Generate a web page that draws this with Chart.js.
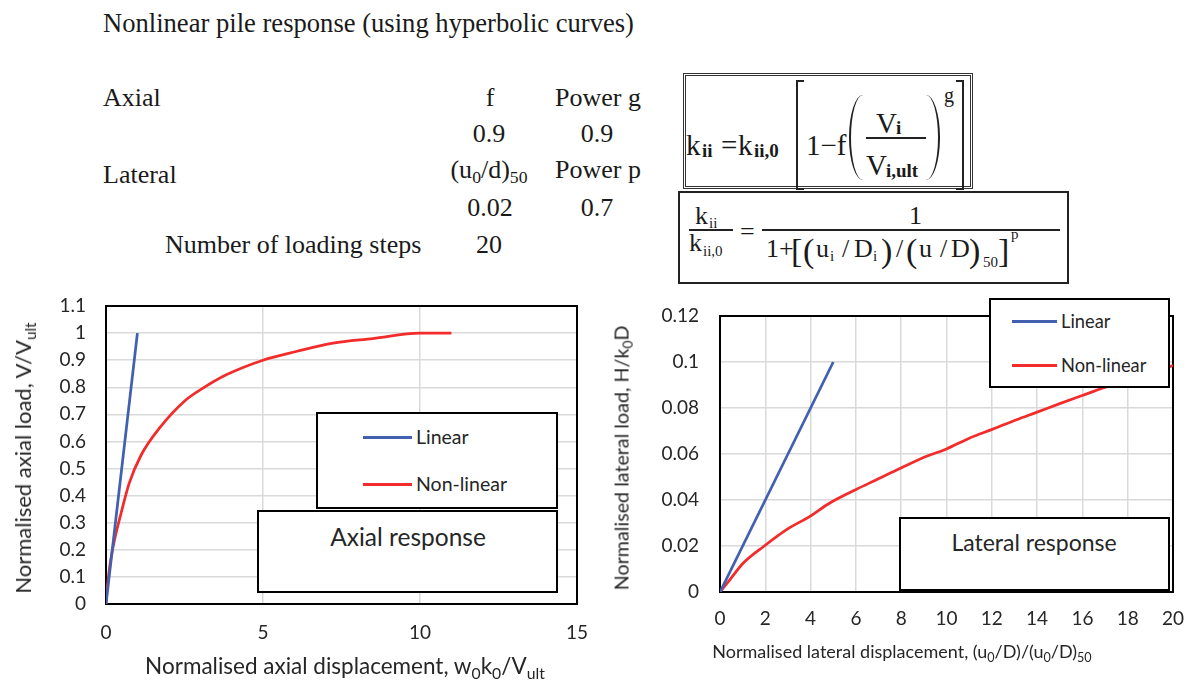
<!DOCTYPE html>
<html>
<head>
<meta charset="utf-8">
<script src="https://cdn.jsdelivr.net/npm/chart.js@4.4.1/dist/chart.umd.min.js"></script>
<style>
html, body { margin: 0; padding: 0; background: #fff; }
body { width: 1192px; height: 686px; position: relative; overflow: hidden; }
.abs { position: absolute; white-space: nowrap; line-height: 1; }
.serif { font-family: 'Liberation Serif', 'Times New Roman', serif; color: #1a1a1a; }
.sans { font-family: Lato, sans-serif; color: #262626; }
.box { position: absolute; border: 2px solid #000; background: #fff; box-sizing: border-box; }
.serif sub { font-size: 0.68em; vertical-align: -0.28em; }
.sans sub { font-size: 0.7em; vertical-align: -0.3em; }
canvas { position: absolute; }
</style>
</head>
<body>

<canvas id="axialChart" width="600" height="396" style="left:0;top:290px"></canvas>
<canvas id="lateralChart" width="592" height="396" style="left:600px;top:290px"></canvas>

<div id="overlay"></div>

<script>
//Chart data
///Axial response
var axialLinearX = [0, 1];
var axialLinearY = [0, 1];
var axialNonlinearX = [0, 0.04, 0.12, 0.27, 0.48, 0.74, 1.12, 1.7, 2.55, 3.09, 3.83, 5.0, 6.06, 7.23, 8.5, 10, 11];
var axialNonlinearY = [0, 0.06, 0.14, 0.236, 0.335, 0.446, 0.55, 0.649, 0.754, 0.797, 0.846, 0.9, 0.932, 0.963, 0.98, 1.0, 1.0];
var axialXTicks = [0, 5, 10, 15];
var axialYTicks = [0, 0.1, 0.2, 0.3, 0.4, 0.5, 0.6, 0.7, 0.8, 0.9, 1, 1.1];

///Lateral response
var lateralLinearX = [0, 5];
var lateralLinearY = [0, 0.1];
var lateralNonlinearX = [0, 0.44, 1.03, 1.94, 2.94, 3.97, 4.85, 5.99, 6.91, 7.99, 9.12, 10.0, 11.03, 11.99, 13.09, 13.97, 15.0, 15.99, 17.2, 18.5, 20];
var lateralNonlinearY = [0, 0.0054, 0.0126, 0.0199, 0.0271, 0.0329, 0.0387, 0.0445, 0.0488, 0.0539, 0.059, 0.0622, 0.067, 0.0706, 0.0749, 0.0781, 0.0819, 0.0854, 0.0897, 0.0935, 0.0985];
var lateralXTicks = [0, 2, 4, 6, 8, 10, 12, 14, 16, 18, 20];
var lateralYTicks = [0, 0.02, 0.04, 0.06, 0.08, 0.1, 0.12];

var seriesNames = ["Linear", "Non-linear"];
var seriesColours = ["#4160b0", "#f22b2b"];

//Pairs two value lists into chart points
function toPoints(xs, ys) {
    return xs.map(function (x, i) { return { x: x, y: ys[i] }; });
}

//Draws the black border round the plot area
var plotFrame = {
    id: "plotFrame",
    beforeDatasetsDraw: function (chart) {
        var a = chart.chartArea;
        var ctx = chart.ctx;
        ctx.save();
        ctx.strokeStyle = "#000";
        ctx.lineWidth = 2;
        ctx.strokeRect(a.left, a.top, a.right - a.left, a.bottom - a.top);
        ctx.restore();
    }
};

function makeDataset(i, xs, ys) {
    return {
        label: seriesNames[i],
        data: toPoints(xs, ys),
        showLine: true,
        borderColor: seriesColours[i],
        backgroundColor: seriesColours[i],
        borderWidth: 2.75,
        pointRadius: 0,
        cubicInterpolationMode: "monotone"
    };
}

//g: geometry of the plot area inside the canvas
///Tick gaps are made with invisible tick marks, so they do not push the plot area in
function drawGraph(id, datasets, xTicks, yTicks, g) {
    var tickFont = { family: "Lato", size: g.fontSize };
    return new Chart(id, {
        type: "scatter",
        data: { datasets: datasets },
        plugins: [plotFrame],
        options: {
            responsive: false,
            animation: false,
            layout: { padding: { left: 0, top: g.top, right: g.right, bottom: 0 } },
            plugins: { legend: { display: false }, tooltip: { enabled: false } },
            scales: {
                x: {
                    type: "linear",
                    min: xTicks[0],
                    max: xTicks[xTicks.length - 1],
                    afterBuildTicks: function (s) { s.ticks = xTicks.map(function (v) { return { value: v }; }); },
                    afterFit: function (s) { s.height = g.xHeight; },
                    grid: { color: "#d9d9d9", lineWidth: 1.5, drawTicks: true, tickLength: g.xPad, tickColor: "rgba(0,0,0,0)" },
                    border: { display: false },
                    ticks: { padding: 0, autoSkip: false, color: "#262626", font: tickFont, maxRotation: 0, callback: function (v) { return String(v); } }
                },
                y: {
                    type: "linear",
                    min: yTicks[0],
                    max: yTicks[yTicks.length - 1],
                    afterBuildTicks: function (s) { s.ticks = yTicks.map(function (v) { return { value: v }; }); },
                    afterFit: function (s) { s.width = g.yWidth; },
                    grid: { color: "#d9d9d9", lineWidth: 1.5, drawTicks: true, tickLength: g.yPad, tickColor: "rgba(0,0,0,0)" },
                    border: { display: false },
                    ticks: { padding: 0, autoSkip: false, color: "#262626", font: tickFont, callback: function (v) { return String(v); } }
                }
            }
        }
    });
}

drawGraph("axialChart",
    [makeDataset(0, axialLinearX, axialLinearY), makeDataset(1, axialNonlinearX, axialNonlinearY)],
    axialXTicks, axialYTicks,
    { top: 16, right: 23, xHeight: 82, yWidth: 106, xPad: 17, yPad: 20, fontSize: 19 });

drawGraph("lateralChart",
    [makeDataset(0, lateralLinearX, lateralLinearY), makeDataset(1, lateralNonlinearX, lateralNonlinearY)],
    lateralXTicks, lateralYTicks,
    { top: 26, right: 19, xHeight: 94, yWidth: 120, xPad: 15, yPad: 21, fontSize: 19 });

//Overlay text, legends and formula boxes
var overlay = document.getElementById("overlay");
var html = "";

function serif(text, x, baseline, size, extra) {
    var top = baseline - 0.8375 * size;
    return "<div class='abs serif' style='left:" + x + "px;top:" + top + "px;font-size:" + size + "px;" + (extra || "") + "'>" + text + "</div>";
}
function serifCentre(text, cx, baseline, size) {
    return serif(text, cx - 100, baseline, size, "width:200px;text-align:center;");
}

///Header table
html += serif("Nonlinear pile response (using hyperbolic curves)", 103, 32, 26.6);
html += serif("Axial", 103, 107, 26);
html += serifCentre("f", 490, 107, 26);
html += serifCentre("Power g", 598, 107, 26);
html += serifCentre("0.9", 489, 143, 26);
html += serifCentre("0.9", 597, 143, 26);
html += serif("Lateral", 103, 184, 26);
html += serifCentre("(u<sub>0</sub>/d)<sub>50</sub>", 489, 179, 26);
html += serifCentre("Power p", 598, 179, 26);
html += serifCentre("0.02", 490, 217, 26);
html += serifCentre("0.7", 597, 217, 26);
html += serif("Number of loading steps", 165, 254, 26);
html += serifCentre("20", 489, 254, 26);

///Formula box 1
html += "<div class='box' style='left:683px;top:73px;width:290px;height:116px;border:3px double #333'></div>";
var formulaOne = [
    ["k", 686, 155, 29, ""], ["ii", 702, 157, 19, "font-weight:bold;"], ["=", 721, 155, 29, ""],
    ["k", 738, 155, 29, ""], ["ii,0", 754, 157, 19, "font-weight:bold;"],
    ["1\u2212f", 806, 155, 29, ""],
    ["V", 876, 133, 29, ""], ["i", 896, 134, 19, "font-weight:bold;"],
    ["V", 866, 175, 29, ""], ["i,ult", 886, 177, 19, "font-weight:bold;"],
    ["g", 944, 102, 20, ""]
];
formulaOne.forEach(function (p) { html += serif(p[0], p[1], p[2], p[3], p[4]); });
html += "<div class='abs' style='left:796px;top:80px;width:6px;height:106px;border:2px solid #222;border-right:none'></div>";
html += "<div class='abs' style='left:956px;top:80px;width:6px;height:106px;border:2px solid #222;border-left:none'></div>";
html += "<div class='abs' style='left:849px;top:95px;width:12px;height:85px;border-left:2px solid #222;border-radius:100% 0 0 100% / 50% 0 0 50%'></div>";
html += "<div class='abs' style='left:926px;top:95px;width:12px;height:85px;border-right:2px solid #222;border-radius:0 100% 100% 0 / 0 50% 50% 0'></div>";
html += "<div class='abs' style='left:866px;top:137px;width:60px;height:2px;background:#222'></div>";

///Formula box 2
html += "<div class='box' style='left:678px;top:191px;width:391px;height:93px;border-color:#222'></div>";
var formulaTwo = [
    ["k", 695, 225, 26], ["ii", 709, 229, 15],
    ["k", 689, 252, 26], ["ii,0", 703, 257, 15],
    ["=", 740, 241, 26],
    ["1", 909, 225, 26],
    ["1+", 766, 258, 26], ["[", 791, 262, 34], ["(", 803, 262, 34],
    ["u", 816, 258, 26], ["i", 830, 262, 15], ["/", 842, 258, 26],
    ["D", 854, 258, 26], ["i", 873, 262, 15], [")", 881, 262, 34],
    ["/", 896, 258, 26], ["(", 906, 262, 34], ["u", 919, 258, 26],
    ["/", 940, 258, 26], ["D", 951, 258, 26], [")", 969, 262, 34],
    ["50", 983, 268, 15], ["]", 998, 262, 34], ["p", 1011, 240, 15]
];
formulaTwo.forEach(function (p) { html += serif(p[0], p[1], p[2], p[3], ""); });
html += "<div class='abs' style='left:689px;top:229px;width:44px;height:2px;background:#222'></div>";
html += "<div class='abs' style='left:762px;top:229px;width:298px;height:2px;background:#222'></div>";

///Axis titles
function sansText(text, cx, cy, size, rotate) {
    return "<div class='abs sans' style='left:" + cx + "px;top:" + cy + "px;font-size:" + size + "px;transform:translate(-50%,-50%)" + (rotate ? " rotate(-90deg)" : "") + "'>" + text + "</div>";
}
html += sansText("Normalised axial load, V/V<sub>ult</sub>", 25, 458, 22, true);
html += sansText("Normalised axial displacement, w<sub>0</sub>k<sub>0</sub>/V<sub>ult</sub>", 345, 668, 22.5, false);
html += sansText("Normalised lateral load, H/k<sub>0</sub>D", 623, 458, 19.7, true);
html += sansText("Normalised lateral displacement, (u<sub>0</sub>/D)/(u<sub>0</sub>/D)<sub>50</sub>", 902, 653, 18, false);

///Legends and labels
function legendBox(x, y, w, h, lineX, lineW, rowYs, size) {
    var s = "<div class='box' style='left:" + x + "px;top:" + y + "px;width:" + w + "px;height:" + h + "px'></div>";
    seriesNames.forEach(function (name, i) {
        s += "<div class='abs' style='left:" + lineX + "px;top:" + (rowYs[i] - 1.5) + "px;width:" + lineW + "px;height:3px;background:" + seriesColours[i] + "'></div>";
        s += "<div class='abs sans' style='left:" + (lineX + lineW + 4) + "px;top:" + rowYs[i] + "px;font-size:" + size + "px;transform:translateY(-50%)'>" + name + "</div>";
    });
    return s;
}
html += legendBox(316, 412, 242, 97, 363, 49, [437, 484], 19.5);
html += legendBox(989, 298, 181, 90, 1012, 45, [321, 365], 18.3);

html += "<div class='box' style='left:257px;top:510px;width:301px;height:83px'></div>";
html += sansText("Axial response", 408, 537, 24.5, false);
html += "<div class='box' style='left:899px;top:517px;width:271px;height:74px'></div>";
html += sansText("Lateral response", 1034, 542, 23, false);

overlay.innerHTML = html;
</script>
</body>
</html>
